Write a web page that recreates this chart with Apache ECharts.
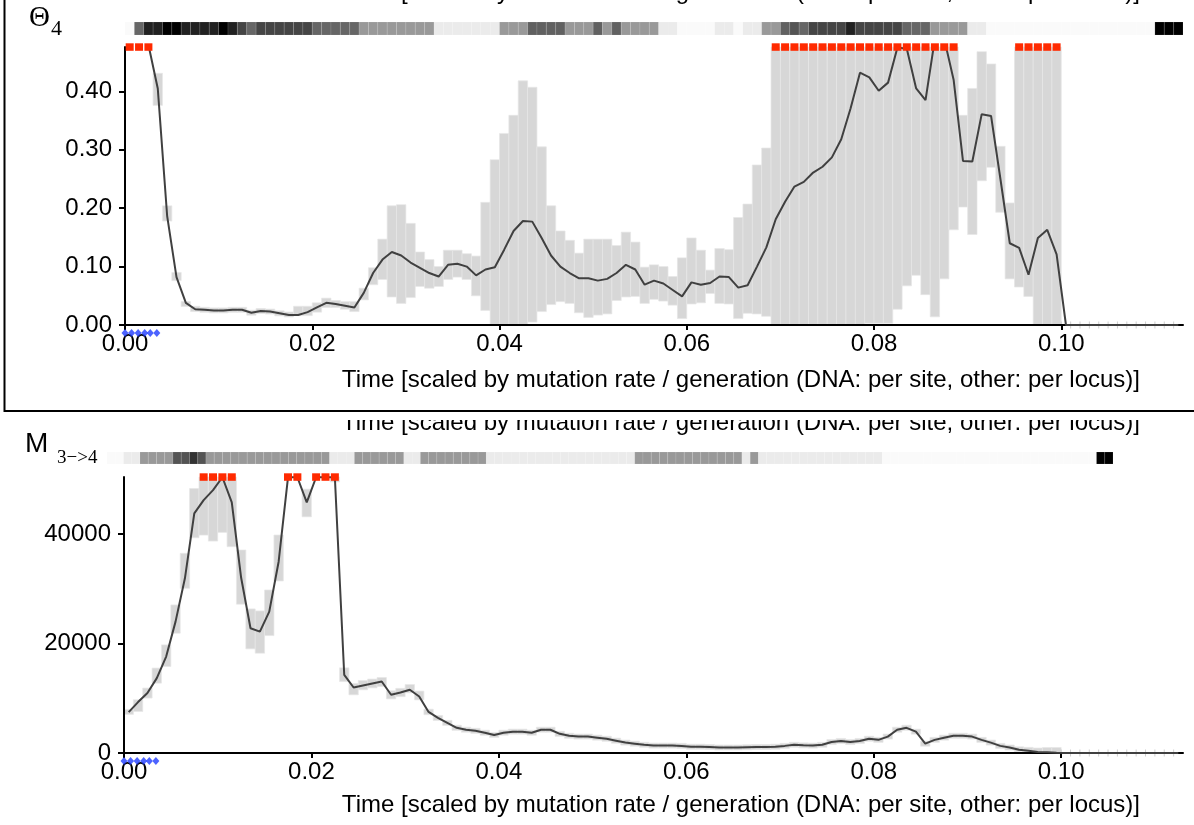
<!DOCTYPE html>
<html><head><meta charset="utf-8">
<script src="https://cdn.jsdelivr.net/npm/echarts@6/dist/echarts.min.js"></script>
<style>html,body{margin:0;padding:0;background:#fff}#c{width:1194px;height:825px}</style>
</head><body><div id="c"></div>
<script>
// ---------- DATA ----------
const binWidth = 0.001;            // time bin width
const xMax = 0.113;
const xTickValues = [0, 0.02, 0.04, 0.06, 0.08, 0.10];
const topYTicks = [0, 0.1, 0.2, 0.3, 0.4];
const topYMax = 0.476;
const botYTicks = [0, 20000, 40000];
const botYMax = 50400;
const sampleTimes = [0, 0.0007, 0.0014, 0.0021, 0.0027, 0.0034];
const axisTitle = 'Time [scaled by mutation rate / generation (DNA: per site, other: per locus)]';

// Theta_4 : median, lower and upper bound per time bin
const topMedian = [
 0.55,0.55,0.48,0.405,0.187,0.082,0.038,0.027,0.026,0.025,
 0.025,0.026,0.026,0.021,0.024,0.023,0.020,0.017,0.017,0.022,
 0.030,0.038,0.036,0.033,0.030,0.055,0.089,0.112,0.125,0.119,
 0.107,0.098,0.089,0.083,0.103,0.105,0.100,0.085,0.095,0.099,
 0.129,0.161,0.178,0.177,0.149,0.119,0.100,0.089,0.080,0.080,
 0.076,0.079,0.089,0.103,0.095,0.069,0.076,0.071,0.060,0.049,
 0.073,0.069,0.072,0.083,0.082,0.064,0.068,0.100,0.133,0.181,
 0.211,0.237,0.245,0.261,0.271,0.287,0.318,0.371,0.432,0.424,
 0.401,0.415,0.475,0.473,0.405,0.385,0.49,0.49,0.42,0.281,
 0.280,0.361,0.358,0.25,0.140,0.132,0.086,0.149,0.163,0.121,
 0,0,0,0,0,0,0,0,0,0,
 0,0,0];
const topLow = [
 0.50,0.50,0.50,0.376,0.178,0.076,0.032,0.023,0.022,0.021,
 0.021,0.022,0.022,0.017,0.020,0.019,0.016,0.014,0.016,0.016,
 0.022,0.030,0.030,0.027,0.023,0.043,0.069,0.078,0.048,0.037,
 0.047,0.066,0.063,0.066,0.078,0.082,0.078,0.050,0.025,0.001,
 0,0,0,0.005,0.023,0.035,0.040,0.037,0.021,0.013,
 0.017,0.019,0.042,0.048,0.049,0.037,0.044,0.041,0.034,0.011,
 0.036,0.038,0.054,0.037,0.036,0.011,0.020,0.019,0.015,0,
 0,0,0,0,0,0,0,0,0,0.003,
 0.003,0.003,0.027,0.067,0.085,0.052,0.014,0.079,0.163,0.202,
 0.155,0.247,0.270,0.193,0.079,0.065,0.049,0,0,0,
 0,0,0,0,0,0,0,0,0,0,
 0,0,0];
const topHigh = [
 0.60,0.60,0.60,0.431,0.204,0.090,0.040,0.032,0.030,0.029,
 0.029,0.030,0.030,0.025,0.028,0.027,0.024,0.022,0.032,0.032,
 0.038,0.046,0.042,0.040,0.040,0.063,0.098,0.147,0.204,0.206,
 0.174,0.125,0.112,0.100,0.128,0.128,0.122,0.118,0.210,0.283,
 0.328,0.359,0.418,0.407,0.305,0.204,0.161,0.145,0.123,0.147,
 0.147,0.147,0.136,0.159,0.142,0.099,0.103,0.100,0.083,0.115,
 0.149,0.128,0.094,0.131,0.129,0.184,0.207,0.274,0.303,0.60,
 0.60,0.60,0.60,0.60,0.60,0.60,0.60,0.60,0.60,0.60,
 0.60,0.60,0.60,0.60,0.60,0.60,0.60,0.60,0.60,0.359,
 0.405,0.468,0.447,0.306,0.209,0.60,0.60,0.60,0.60,0.60,
 0,0,0,0,0,0,0,0,0,0,
 0,0,0];
// strip above Theta_4 (darkness 0..1 per bin)
const topHeat = [
 0.02,0.6,0.87,0.87,1,1,0.87,0.87,0.87,0.87,
 1,0.87,0.73,0.6,0.73,0.73,0.73,0.73,0.73,0.73,
 0.6,0.6,0.6,0.6,0.6,0.4,0.4,0.4,0.4,0.4,
 0.4,0.4,0.4,0.08,0.08,0.08,0.08,0.08,0.08,0.08,
 0.4,0.4,0.4,0.62,0.62,0.62,0.62,0.4,0.4,0.4,
 0.62,0.4,0.62,0.4,0.4,0.4,0.4,0.08,0.08,0.02,
 0.02,0.02,0.02,0.08,0.08,0.02,0.08,0.08,0.4,0.4,
 0.62,0.67,0.6,0.73,0.73,0.73,0.73,0.87,0.73,0.73,
 0.73,0.73,0.73,0.6,0.6,0.6,0.4,0.4,0.4,0.4,
 0.08,0.08,0.02,0.02,0.02,0.02,0.02,0.02,0.02,0.02,
 0.02,0.02,0.02,0.02,0.02,0.02,0.02,0.02,0.02,0.02,
 1,1,1];

// M 3->4
const botMedian = [
 7475,9300,10940,13670,17610,23990,31900,43750,46180,48000,
 50350,45760,32000,22790,22170,25820,34930,50350,50350,45760,
 50350,50350,50350,14275,11960,12330,12690,13050,10630,11050,
 11540,10320,7500,6400,5500,4600,4250,4050,3700,3300,
 3700,3900,3900,3700,4250,4250,3500,3150,3000,3000,
 2800,2600,2250,1900,1700,1500,1350,1350,1350,1300,
 1150,1150,1100,1000,1000,1000,1050,1100,1100,1150,
 1300,1500,1400,1350,1500,2000,2200,2000,2200,2600,
 2400,3000,4250,4600,3900,1700,2400,2800,3150,3150,
 3000,2400,1900,1300,1000,600,400,200,150,50,
 0,0,0,0,0,0,0,0,0,0,
 0,0,0];
const botLow = [
 7100,7580,10030,12760,15790,21880,30080,39310,39800,38700,
 40290,37670,27170,19020,18230,21440,31410,55000,55000,43130,
 55000,55000,49500,13050,10630,11540,11900,12140,9880,10300,
 11000,9700,7000,6000,5100,4300,3950,3750,3400,3000,
 3400,3600,3600,3400,3950,3950,3200,2900,2750,2750,
 2550,2350,2000,1700,1500,1300,1150,1150,1150,1100,
 950,950,900,800,800,800,850,900,900,950,
 1100,1300,1200,1150,1300,1750,1950,1750,1950,2350,
 2150,2700,3900,4250,3550,1450,2150,2550,2900,2900,
 2750,2150,1650,1050,750,350,150,0,0,0,
 0,0,0,0,0,0,0,0,0,0,
 0,0,0];
const botHigh = [
 7900,9720,11850,15500,19740,27040,36460,48300,60000,60000,
 60000,60000,37070,26310,25940,29770,39800,60000,60000,48180,
 60000,60000,60000,15550,12690,13240,13500,13780,11360,11800,
 12500,11300,8000,6800,5900,4900,4550,4350,4000,3600,
 4000,4200,4200,4000,4550,4550,3800,3400,3250,3250,
 3050,2850,2500,2100,1900,1700,1550,1550,1550,1500,
 1350,1350,1300,1200,1200,1200,1250,1300,1300,1350,
 1500,1700,1600,1550,1700,2250,2450,2250,2450,2850,
 2650,3300,4600,4950,4250,1950,2650,3050,3400,3400,
 3250,2650,2150,1550,1250,1000,1000,900,1000,1000,
 0,0,0,0,0,0,0,0,0,0,
 0,0,0];
// strip above M 3->4 (darkness 0..1 per cell)
const botHeat = [
 0.02,0.02,0.08,0.08,0.4,0.4,0.4,0.4,0.67,0.67,
 0.8,0.67,0.4,0.4,0.4,0.4,0.4,0.4,0.4,0.4,
 0.4,0.4,0.4,0.4,0.4,0.4,0.4,0.08,0.08,0.08,
 0.4,0.4,0.4,0.4,0.4,0.4,0.08,0.08,0.4,0.4,
 0.4,0.4,0.4,0.4,0.4,0.4,0.08,0.08,0.08,0.08,
 0.08,0.08,0.08,0.08,0.08,0.08,0.08,0.08,0.08,0.08,
 0.08,0.08,0.08,0.08,0.4,0.4,0.4,0.4,0.4,0.4,
 0.4,0.4,0.4,0.4,0.4,0.4,0.4,0.08,0.4,0.08,
 0.08,0.08,0.08,0.08,0.08,0.08,0.08,0.08,0.08,0.08,
 0.08,0.08,0.08,0.08,0.02,0.02,0.02,0.02,0.02,0.02,
 0.02,0.02,0.02,0.02,0.02,0.02,0.02,0.02,0.02,0.02,
 0.02,0.02,0.02,0.02,0.02,0.02,0.02,0.02,0.02,0.02,
 1,1];

// ---------- CHART ----------
const SANS = '"Liberation Sans", Arial, Helvetica, sans-serif';
const SERIF = '"Liberation Serif", "Times New Roman", serif';
const FS = 24;
const chart = echarts.init(document.getElementById('c'), null, {renderer: 'canvas'});

function xAxisCfg(gi, show) {
  return {
    type: 'value', gridIndex: gi, min: 0, max: xMax, show: show, z: 2,
    axisLine: {show: show, onZero: false, lineStyle: {color: '#000', width: 2}},
    axisTick: {show: show, length: 5, lineStyle: {color: '#000', width: 2}, customValues: xTickValues},
    axisLabel: {show: show, customValues: xTickValues, formatter: v => v.toFixed(2),
      fontSize: FS, color: '#000', fontFamily: SANS, margin: 7},
    splitLine: {show: false}
  };
}
function yAxisCfg(gi, max, ticks, fmt) {
  return {
    type: 'value', gridIndex: gi, min: 0, max: max, z: 2,
    axisLine: {show: true, onZero: false, lineStyle: {color: '#000', width: 2}},
    axisTick: {show: true, length: 6, lineStyle: {color: '#000', width: 2}, customValues: ticks},
    axisLabel: {customValues: ticks, formatter: fmt, fontSize: FS, color: '#000', fontFamily: SANS, margin: 13},
    splitLine: {show: false}
  };
}
function hiddenAxis(gi, min, max) {
  return {type: 'value', gridIndex: gi, min: min, max: max, show: false};
}

function rangeSeries(ai, low, high, yMax) {
  return {
    type: 'custom', xAxisIndex: ai, yAxisIndex: ai, z: 1, silent: true,
    data: low.map((l, i) => [i * binWidth, l, high[i]]),
    renderItem(params, api) {
      const x0 = api.value(0);
      const lo = Math.max(0, api.value(1));
      const hi = Math.min(yMax, api.value(2));
      if (hi < lo) return null;
      const p0 = api.coord([x0, hi]);
      const p1 = api.coord([x0 + binWidth, lo]);
      if (p1[1] - p0[1] < 0.5) {
        return {type: 'line', shape: {x1: p0[0], y1: p0[1] - 3.5, x2: p0[0], y2: p0[1] + 3.5},
          style: {stroke: '#cfcfcf', lineWidth: 1}};
      }
      let y0 = p0[1], y1 = p1[1];
      if (y1 - y0 < 5) { const c = (y0 + y1) / 2; y0 = c - 2.5; y1 = c + 2.5; }
      return {type: 'rect', shape: {x: p0[0], y: y0, width: p1[0] - p0[0], height: y1 - y0},
        style: {fill: '#d7d7d7', stroke: '#e6e6e6', lineWidth: 0.7}};
    }
  };
}
function overflowSeries(ai, high, yMax) {
  const d = [];
  high.forEach((h, i) => { if (h > yMax) d.push([(i + 0.5) * binWidth, yMax]); });
  return {
    type: 'custom', xAxisIndex: ai, yAxisIndex: ai, z: 4, silent: true, data: d,
    renderItem(params, api) {
      const p = api.coord([api.value(0), api.value(1)]);
      return {type: 'rect', shape: {x: p[0] - 4, y: p[1] - 3.7, width: 8, height: 7.5},
        style: {fill: '#ff2a00'}};
    }
  };
}
function medianSeries(ai, med) {
  return {
    type: 'line', xAxisIndex: ai, yAxisIndex: ai, z: 3, silent: true, clip: true,
    symbol: 'none', data: med.map((v, i) => [(i + 0.5) * binWidth, v]),
    lineStyle: {color: '#404040', width: 2}
  };
}
function sampleSeries(ai) {
  return {
    type: 'scatter', xAxisIndex: ai, yAxisIndex: ai, z: 5, silent: true,
    data: sampleTimes.map(t => [t, 0]), symbol: 'diamond', symbolSize: [7, 8],
    symbolOffset: [0, 8], itemStyle: {color: '#1f3cff'}
  };
}
function heatSeries(ai, heat) {
  return {
    type: 'custom', xAxisIndex: ai, yAxisIndex: ai, z: 1, silent: true,
    data: heat.map((v, i) => [i, v]),
    renderItem(params, api) {
      const i = api.value(0), v = api.value(1);
      const p0 = api.coord([i, 1]), p1 = api.coord([i + 1, 0]);
      const g = Math.round(255 * (1 - v));
      return {type: 'rect', shape: {x: p0[0], y: p0[1], width: p1[0] - p0[0], height: p1[1] - p0[1]},
        style: {fill: `rgb(${g},${g},${g})`, stroke: 'rgba(255,255,255,0.18)', lineWidth: 0.6}};
    }
  };
}
function txt(x, y, text, size, family, extra) {
  return Object.assign({type: 'text', x: x, y: y, style: {text: text, fontSize: size, fontFamily: family, fill: '#000',
    align: 'left', verticalAlign: 'middle', textAlign: 'left', textVerticalAlign: 'middle'}}, extra || {});
}
function titleTxt(y, z) {
  return {type: 'text', z: z, x: 1140, y: y, style: {text: axisTitle, fontSize: FS, fontFamily: SANS, fill: '#000',
    align: 'right', verticalAlign: 'middle', textAlign: 'right', textVerticalAlign: 'middle'}};
}

const option = {
  animation: false,
  backgroundColor: '#fff',
  grid: [
    {left: 125, right: 11, top: 47, height: 278},   // Theta_4
    {left: 125, right: 11, top: 22, height: 13},    // strip top
    {left: 124, right: 11, top: 477, height: 276},  // M 3->4
    {left: 107, right: 81, top: 452, height: 12}    // strip bottom
  ],
  xAxis: [xAxisCfg(0, true), hiddenAxis(1, 0, topHeat.length), xAxisCfg(2, true), hiddenAxis(3, 0, botHeat.length)],
  yAxis: [
    yAxisCfg(0, topYMax, topYTicks, v => v.toFixed(2)),
    hiddenAxis(1, 0, 1),
    yAxisCfg(2, botYMax, botYTicks, v => String(v)),
    hiddenAxis(3, 0, 1)
  ],
  series: [
    rangeSeries(0, topLow, topHigh, topYMax),
    medianSeries(0, topMedian),
    overflowSeries(0, topHigh, topYMax),
    sampleSeries(0),
    heatSeries(1, topHeat),
    rangeSeries(2, botLow, botHigh, botYMax),
    medianSeries(2, botMedian),
    overflowSeries(2, botHigh, botYMax),
    sampleSeries(2),
    heatSeries(3, botHeat)
  ],
  graphic: [
    titleTxt(-7.5, -10),
    titleTxt(423, -10),
    {type: 'rect', z: -5, shape: {x: 0, y: 396, width: 1194, height: 24}, style: {fill: '#fff'}},
    {type: 'rect', z: -4, shape: {x: 4.5, y: -10, width: 1300, height: 421}, style: {fill: 'none', stroke: '#000', lineWidth: 2}},
    titleTxt(380, 0),
    titleTxt(805, 0),
    txt(29, 18, 'Θ', 29, SERIF),
    txt(51, 29, '4', 22, SERIF),
    txt(25, 444.5, 'M', 28, SANS),
    txt(57, 458, '3−>4', 19, SERIF)
  ]
};
chart.setOption(option);
</script>
</body></html>
